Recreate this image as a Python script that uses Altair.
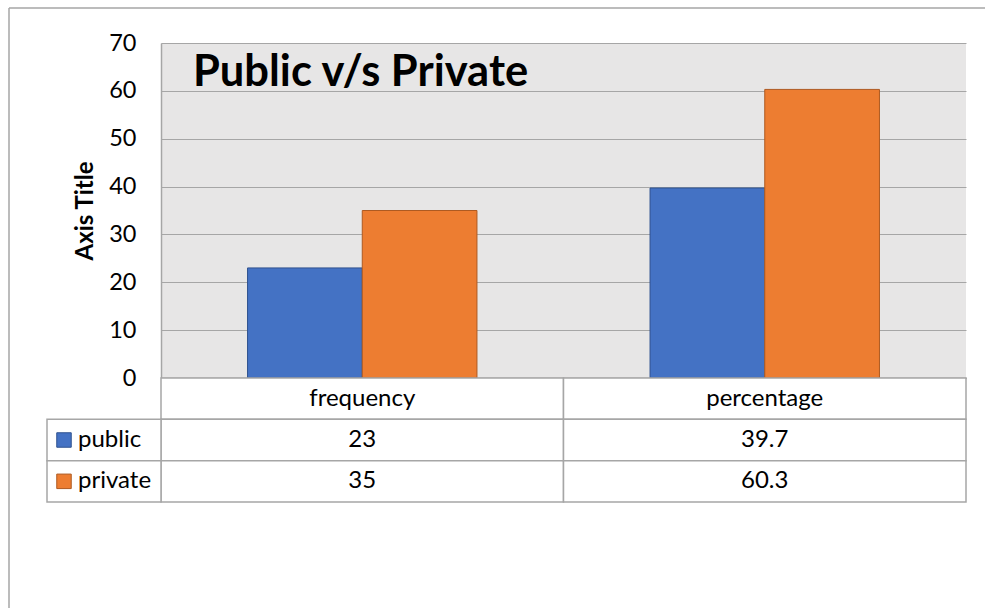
import altair as alt
import pandas as pd

categories = ["frequency", "percentage"]
series = ["public", "private"]
public_values = [23, 39.7]
private_values = [35, 60.3]
y_ticks = [0, 10, 20, 30, 40, 50, 60, 70]
chart_title = "Public v/s Private"
y_title = "Axis Title"

colors = ["#4472C4", "#ED7D31"]
borders = ["#2F528F", "#AE5A21"]
FONT = "Lato"
GRID = "#A6A6A6"

rows = []
for s, vals in zip(series, [public_values, private_values]):
    for c, v in zip(categories, vals):
        rows.append({"category": c, "series": s, "value": v, "label": f"{v:g}"})
df = pd.DataFrame(rows)

W, H = 805, 335

color_scale = alt.Scale(domain=series, range=colors)
stroke_scale = alt.Scale(domain=series, range=borders)

bars = alt.Chart(df).mark_bar(strokeWidth=1).encode(
    x=alt.X("category:N", sort=categories,
            scale=alt.Scale(paddingInner=0.43, paddingOuter=0.215),
            axis=alt.Axis(labels=False, ticks=False, title=None, domain=True,
                          domainColor="#8C8C8C", domainWidth=1.5, grid=False)),
    xOffset=alt.XOffset("series:N", sort=series,
                        scale=alt.Scale(paddingInner=0, paddingOuter=0)),
    y=alt.Y("value:Q", scale=alt.Scale(domain=[0, 70], nice=False),
            axis=alt.Axis(values=y_ticks, title=y_title, ticks=False, tickSize=0,
                          domain=True, domainColor=GRID, domainWidth=1.5,
                          grid=True, gridColor=GRID, gridWidth=1,
                          labelFont=FONT, labelFontSize=23.5, labelColor="#000000",
                          labelPadding=25,
                          titleFont=FONT, titleFontSize=24, titleFontWeight="bold",
                          titleColor="#000000", titlePadding=11)),
    color=alt.Color("series:N", scale=color_scale, legend=None),
    stroke=alt.Stroke("series:N", scale=stroke_scale, legend=None),
)

title_mark = alt.Chart(pd.DataFrame({"t": [chart_title]})).mark_text(
    font=FONT, fontSize=43.5, fontWeight="bold", color="#000000",
    align="left", baseline="alphabetic"
).encode(x=alt.value(32), y=alt.value(43), text="t:N")

frame_top = alt.Chart(pd.DataFrame({"a": [0]})).mark_rule(
    color="#A6A6A6", strokeWidth=1.5
).encode(x=alt.value(-152), x2=alt.value(824), y=alt.value(-35), y2=alt.value(-35))
frame_left = alt.Chart(pd.DataFrame({"a": [0]})).mark_rule(
    color="#A6A6A6", strokeWidth=1.5
).encode(x=alt.value(-152), x2=alt.value(-152), y=alt.value(-35), y2=alt.value(565))

top = alt.layer(bars, title_mark, frame_top, frame_left).properties(
    width=W, height=H, view=alt.ViewBackground(fill="#E7E6E6", stroke=None)
)

# data table below the plot
table_rows = ["header"] + series
cells = pd.DataFrame([{"category": c, "row": r} for c in categories for r in table_rows])
texts = [{"category": c, "row": "header", "txt": c} for c in categories]
texts += [{"category": r["category"], "row": r["series"], "txt": r["label"]} for r in rows]
texts = pd.DataFrame(texts)
legend_df = pd.DataFrame({"row": series, "series": series})

xs = alt.X("category:N", sort=categories, scale=alt.Scale(paddingInner=0, paddingOuter=0), axis=None)
ys = alt.Y("row:N", sort=table_rows, scale=alt.Scale(domain=table_rows, paddingInner=0, paddingOuter=0), axis=None)

cell_rects = alt.Chart(cells).mark_rect(fill="white", stroke=GRID, strokeWidth=1.5).encode(x=xs, y=ys)
cell_text = alt.Chart(texts).mark_text(font=FONT, fontSize=24, color="#000000").encode(
    x=xs, y=ys, text="txt:N")
legend_rects = alt.Chart(legend_df).mark_rect(fill="white", stroke=GRID, strokeWidth=1.5).encode(
    x=alt.value(-114), x2=alt.value(0), y=ys)
legend_sw = alt.Chart(legend_df).mark_square(size=210, opacity=1, strokeWidth=1).encode(
    x=alt.value(-97), y=ys,
    fill=alt.Fill("series:N", scale=color_scale, legend=None),
    stroke=alt.Stroke("series:N", scale=stroke_scale, legend=None))
legend_txt = alt.Chart(legend_df).mark_text(font=FONT, fontSize=24, color="#000000", align="left").encode(
    x=alt.value(-83), y=ys, text="series:N")

table = alt.layer(cell_rects, cell_text, legend_rects, legend_sw, legend_txt).properties(
    width=W, height=124, view=alt.ViewBackground(stroke=None)
)

chart = alt.vconcat(top, table, spacing=0, bounds="flush").resolve_scale(
    x="independent", y="independent"
).properties(
    padding={"left": 8, "top": 7, "right": 0, "bottom": 0}
).configure_view(stroke=None)

chart.save("out.html", embed_options={"renderer": "svg", "actions": False})
